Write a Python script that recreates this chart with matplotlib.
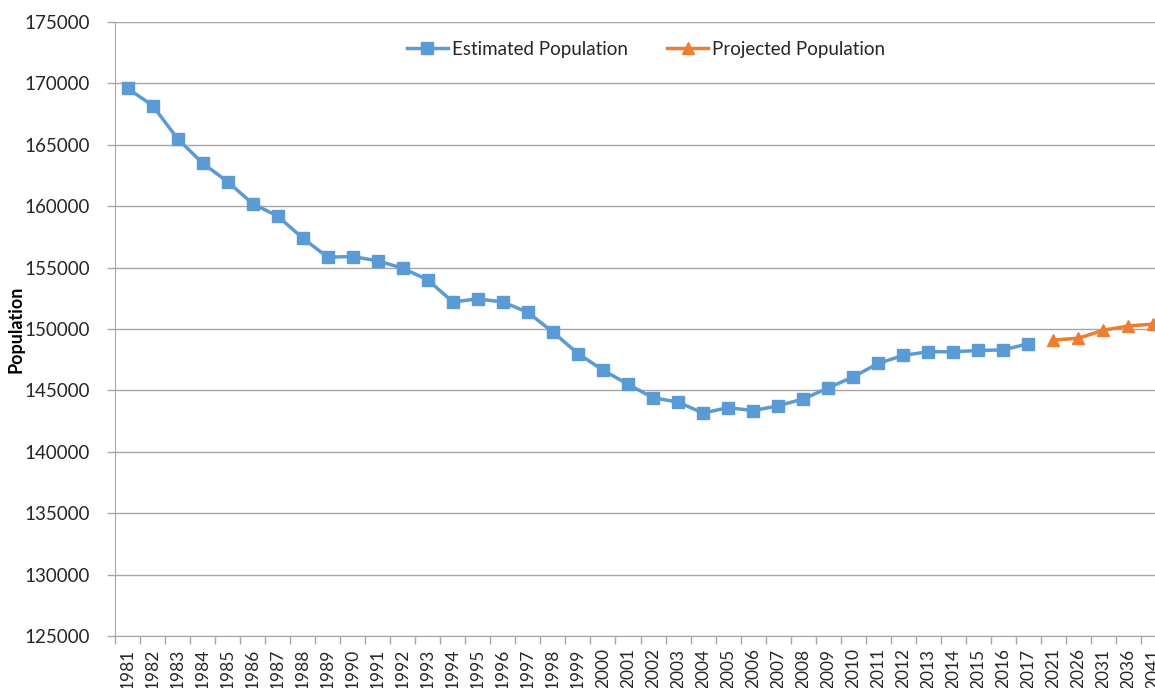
import numpy as np
from matplotlib import pyplot as plt

years = [str(y) for y in range(1981, 2018)] + ["2021", "2026", "2031", "2036", "2041"]

estimated = [169600, 168200, 165500, 163500, 162000, 160200, 159200, 157400,
             155850, 155900, 155550, 154950, 154000, 152200, 152450, 152200,
             151350, 149750, 148000, 146650, 145500, 144400, 144050, 143150,
             143600, 143350, 143750, 144300, 145200, 146100, 147200, 147850,
             148150, 148150, 148250, 148300, 148800]
projected = [149100, 149250, 149900, 150250, 150400]

blue = '#5B9BD5'
orange = '#ED7D31'
grid_col = '#A6A6A6'
text_col = '#262626'

plt.rcParams['font.family'] = ['Lato', 'DejaVu Sans']

fig = plt.figure(figsize=(11.55, 6.88), dpi=100)
ax = fig.add_axes([115 / 1155, 52 / 688, 1051 / 1155, 614 / 688])

x = np.arange(len(years))
est = np.full(len(years), np.nan)
est[:len(estimated)] = estimated
proj = np.full(len(years), np.nan)
proj[len(estimated):] = projected

ax.plot(x, est, color=blue, lw=2.5, marker='s', ms=8, label='Estimated Population', zorder=3)
ax.plot(x, proj, color=orange, lw=2.5, marker='^', ms=8.5, label='Projected Population', zorder=3)

ax.set_xlim(-0.5, len(years) - 0.5)
ax.set_ylim(125000, 175000)
ax.set_yticks(np.arange(125000, 175001, 5000))
ax.yaxis.grid(True, color=grid_col, lw=1)
ax.set_axisbelow(True)

ax.set_xticks(x)
ax.set_xticklabels(years, rotation=90, fontsize=12.5, color=text_col)
ax.set_xticks(np.arange(-0.5, len(years), 1), minor=True)
ax.tick_params(axis='x', which='major', length=0, pad=9)
ax.tick_params(axis='x', which='minor', length=6, color=grid_col, width=1)
ax.tick_params(axis='y', length=6, color=grid_col, width=1, labelsize=13.5, labelcolor=text_col, pad=12)

for s in ['top', 'right']:
    ax.spines[s].set_visible(False)
ax.spines['left'].set_color(grid_col)
ax.spines['bottom'].set_color(grid_col)

ax.set_ylabel('Population', fontsize=13, fontweight='bold', color='black')
ax.yaxis.set_label_coords(-0.086, 0.5)

ax.legend(loc='center', bbox_to_anchor=(0.505, 0.956), ncol=2, frameon=False,
          fontsize=13.5, columnspacing=2.1, handlelength=2.2, handletextpad=0.2,
          labelcolor=text_col)

fig.savefig('out.png', dpi=100)
